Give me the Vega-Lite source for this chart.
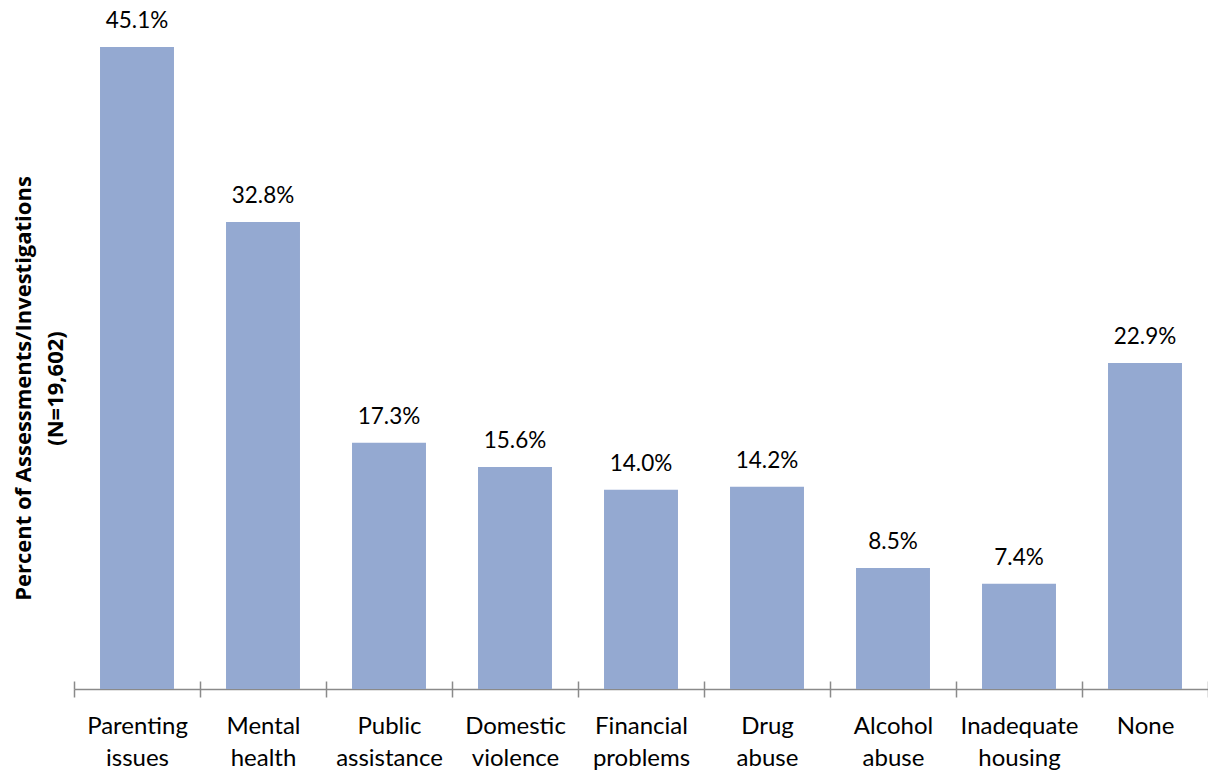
{
  "$schema": "https://vega.github.io/schema/vega-lite/v6.json",
  "width": 1134,
  "height": 689,
  "autosize": {"type": "none"},
  "padding": {"left": 74, "top": 0, "right": 0, "bottom": 82},
  "background": "white",
  "config": {"view": {"stroke": null}, "font": "Lato"},
  "data": {
    "values": [
      {"category": "Parenting issues", "value": 45.1, "label": "45.1%"},
      {"category": "Mental health", "value": 32.8, "label": "32.8%"},
      {"category": "Public assistance", "value": 17.3, "label": "17.3%"},
      {"category": "Domestic violence", "value": 15.6, "label": "15.6%"},
      {"category": "Financial problems", "value": 14.0, "label": "14.0%"},
      {"category": "Drug abuse", "value": 14.2, "label": "14.2%"},
      {"category": "Alcohol abuse", "value": 8.5, "label": "8.5%"},
      {"category": "Inadequate housing", "value": 7.4, "label": "7.4%"},
      {"category": "None", "value": 22.9, "label": "22.9%"}
    ]
  },
  "layer": [
    {
      "mark": {"type": "bar", "color": "#94A9D1", "width": {"band": 0.587}},
      "encoding": {
        "x": {
          "field": "category", "type": "nominal", "sort": null,
          "scale": {"paddingInner": 0, "paddingOuter": 0},
          "axis": {
            "orient": "bottom", "title": null, "labelAngle": 0,
            "labelExpr": "split(datum.label, ' ')",
            "labelFont": "Lato", "labelFontSize": 24, "labelColor": "#000000",
            "labelLineHeight": 32, "labelBaseline": "alphabetic", "labelPadding": 36,
            "labelLimit": 0,
            "domainColor": "#8a8a8a", "domainWidth": 1.5,
            "tickColor": "#8a8a8a", "tickWidth": 1.5, "tickSize": 8, "tickBand": "extent",
            "grid": false
          }
        },
        "y": {
          "field": "value", "type": "quantitative",
          "scale": {"domain": [0, 48.4], "nice": false},
          "axis": {
            "title": ["Percent of Assessments/Investigations", "(N=19,602)"],
            "titleFont": "Open Sans", "titleFontSize": 22, "titleFontWeight": 700,
            "titleColor": "#000000", "titleAngle": -90, "titleAlign": "center",
            "titleBaseline": "alphabetic", "titleLineHeight": 32,
            "titleX": -44, "titleY": 388,
            "domain": false, "ticks": false, "labels": false, "grid": false
          }
        }
      }
    },
    {
      "mark": {"type": "text", "dy": -19, "baseline": "alphabetic", "font": "Lato", "fontSize": 22.5, "color": "#000000"},
      "encoding": {
        "x": {
          "field": "category", "type": "nominal", "sort": null,
          "axis": {
            "orient": "bottom", "title": null, "labels": false, "domain": false,
            "ticks": true, "tickSize": 8, "tickColor": "#8a8a8a", "tickWidth": 1.5,
            "tickBand": "extent", "offset": -8, "grid": false
          }
        },
        "y": {"field": "value", "type": "quantitative"},
        "text": {"field": "label"}
      }
    }
  ],
  "resolve": {"scale": {"x": "shared", "y": "shared"}, "axis": {"x": "independent"}}
}
